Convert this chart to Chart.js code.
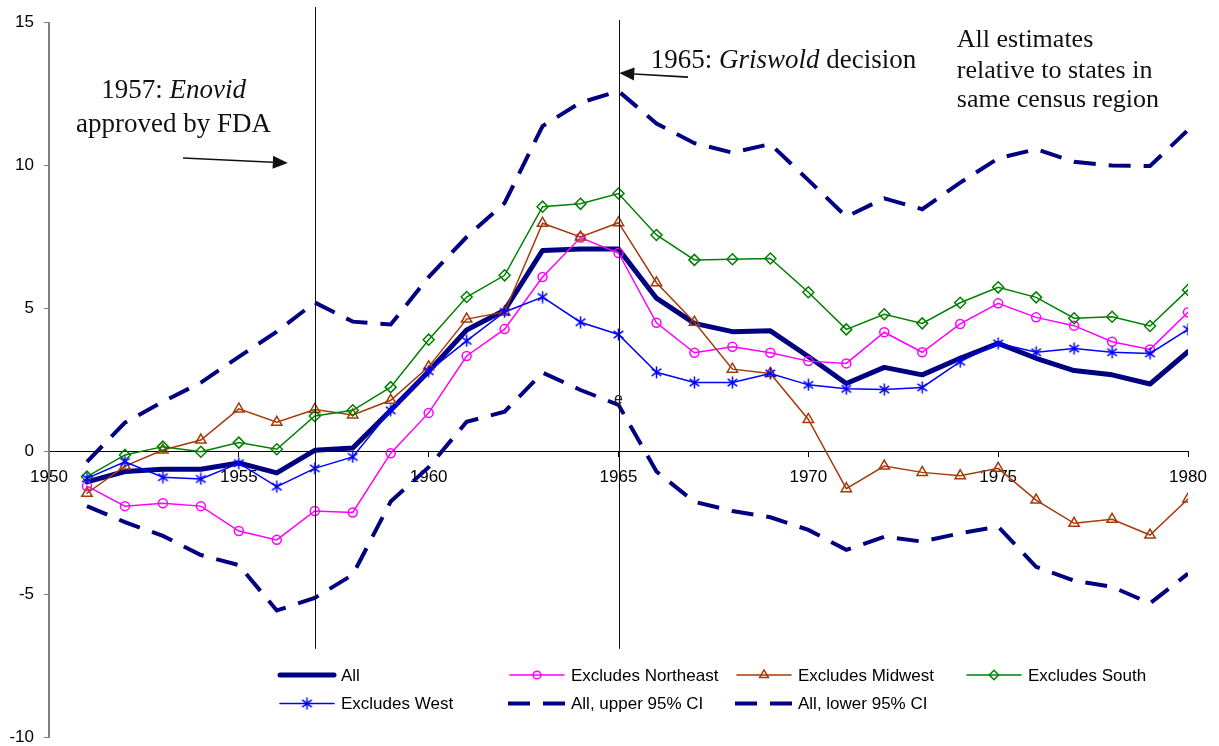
<!DOCTYPE html>
<html>
<head>
<meta charset="utf-8">
<script src="https://cdn.jsdelivr.net/npm/chart.js@4.4.1/dist/chart.umd.min.js"></script>
<style>
  html, body { margin: 0; padding: 0; background: #fff; }
  canvas { display: block; }
</style>
</head>
<body>
<canvas id="chart" width="1219" height="746"></canvas>
<script>
// Years covered by the estimates
const years = [1951, 1952, 1953, 1954, 1955, 1956, 1957, 1958, 1959, 1960,
               1961, 1962, 1963, 1964, 1965, 1966, 1967, 1968, 1969, 1970,
               1971, 1972, 1973, 1974, 1975, 1976, 1977, 1978, 1979, 1980];

// Point estimates, all states and leaving out one census region at a time
const allStates = [-1.06, -0.70, -0.62, -0.62, -0.40, -0.75, 0.04, 0.12, 1.44, 2.80,
                   4.25, 4.94, 7.03, 7.08, 7.08, 5.36, 4.48, 4.19, 4.22, 3.32,
                   2.38, 2.94, 2.68, 3.26, 3.78, 3.26, 2.83, 2.68, 2.36, 3.49];
const exclNortheast = [-1.21, -1.91, -1.81, -1.91, -2.78, -3.09, -2.08, -2.13, -0.06, 1.35,
                       3.34, 4.28, 6.10, 7.48, 6.94, 4.50, 3.45, 3.66, 3.45, 3.16,
                       3.08, 4.17, 3.47, 4.46, 5.18, 4.69, 4.40, 3.84, 3.57, 4.87];
const exclMidwest = [-1.46, -0.51, 0.05, 0.40, 1.49, 1.02, 1.47, 1.28, 1.79, 2.96,
                     4.63, 4.88, 7.98, 7.50, 8.00, 5.90, 4.52, 2.88, 2.73, 1.12,
                     -1.30, -0.51, -0.73, -0.85, -0.59, -1.70, -2.51, -2.37, -2.92, -1.66];
const exclSouth = [-0.88, -0.12, 0.17, -0.01, 0.31, 0.08, 1.24, 1.44, 2.25, 3.91,
                   5.40, 6.16, 8.56, 8.66, 9.02, 7.57, 6.70, 6.72, 6.75, 5.57,
                   4.27, 4.80, 4.48, 5.20, 5.74, 5.39, 4.66, 4.71, 4.39, 5.65];
const exclWest = [-0.94, -0.36, -0.90, -0.96, -0.41, -1.23, -0.59, -0.19, 1.44, 2.81,
                  3.87, 4.88, 5.40, 4.52, 4.09, 2.77, 2.41, 2.41, 2.73, 2.33,
                  2.19, 2.17, 2.24, 3.14, 3.78, 3.47, 3.60, 3.47, 3.43, 4.27];

// 95% confidence band around the all-states estimate
const upperCI = [-0.36, 1.01, 1.74, 2.41, 3.31, 4.19, 5.21, 4.54, 4.44, 6.10,
                 7.50, 8.69, 11.38, 12.20, 12.60, 11.47, 10.78, 10.45, 10.75, 9.49,
                 8.21, 8.85, 8.47, 9.40, 10.25, 10.57, 10.13, 10.00, 9.98, 11.24];
const lowerCI = [-1.91, -2.47, -2.95, -3.62, -3.97, -5.56, -5.12, -4.31, -1.75, -0.55,
                 1.04, 1.39, 2.76, 2.15, 1.63, -0.70, -1.76, -2.08, -2.30, -2.74,
                 -3.44, -2.98, -3.15, -2.86, -2.63, -4.03, -4.52, -4.73, -5.31, -4.27];

const seriesNames = ['All', 'Excludes Northeast', 'Excludes Midwest', 'Excludes South',
                     'Excludes West', 'All, upper 95% CI', 'All, lower 95% CI'];

// Axis labels
const xTickLabels = ['1950', '1955', '1960', '1965', '1970', '1975', '1980'];
const yTickLabels = ['-10', '-5', '0', '5', '10', '15'];

const SANS = '"Liberation Sans", Arial, sans-serif';
const SERIF = '"Liberation Serif", "Times New Roman", serif';

// Asterisk marker: vertical stroke crossed by two diagonals
function asteriskMarker(color, size) {
  const c = document.createElement('canvas');
  c.width = size; c.height = size;
  const g = c.getContext('2d');
  const m = size / 2, r = size / 2 - 0.5, d = r * 0.8;
  g.strokeStyle = color;
  g.lineWidth = 1.5;
  g.beginPath();
  g.moveTo(m, m - r); g.lineTo(m, m + r);
  g.moveTo(m - d, m - d * 0.75); g.lineTo(m + d, m + d * 0.75);
  g.moveTo(m - d, m + d * 0.75); g.lineTo(m + d, m - d * 0.75);
  g.stroke();
  return c;
}

const toPoints = vals => years.map((yr, i) => ({ x: yr, y: vals[i] }));

const seriesValues = [allStates, exclNortheast, exclMidwest, exclSouth, exclWest, upperCI, lowerCI];
const seriesStyles = [
  { color: '#000080', width: 5, point: null, r: 0 },
  { color: '#FF00FF', width: 1.5, point: 'circle', r: 4.5 },
  { color: '#A63A0A', width: 1.5, point: 'triangle', r: 6 },
  { color: '#008000', width: 1.5, point: 'rectRot', r: 5.5 },
  { color: '#0000FF', width: 1.5, point: asteriskMarker('#0000FF', 13), r: 6 },
  { color: '#000080', width: 4, point: null, r: 0, dash: [22, 13] },
  { color: '#000080', width: 4, point: null, r: 0, dash: [22, 13] }
];

const datasets = seriesValues.map((vals, i) => {
  const s = seriesStyles[i];
  return {
    label: seriesNames[i],
    data: toPoints(vals),
    borderColor: s.color,
    borderWidth: s.width,
    borderDash: s.dash || [],
    borderCapStyle: s.dash ? 'butt' : 'round',
    borderJoinStyle: i === 0 ? 'round' : 'miter',
    tension: 0,
    fill: false,
    pointStyle: s.point || 'circle',
    pointRadius: s.r,
    pointHoverRadius: s.r,
    pointBorderColor: s.color,
    pointBackgroundColor: 'rgba(0,0,0,0)',
    pointBorderWidth: 1.5,
    order: seriesValues.length - i
  };
});

// Draws text made of plain and italic runs, starting at x (or centred on x)
function drawRuns(ctx, runs, x, y, size, centred) {
  const fontFor = it => (it ? 'italic ' : '') + size + 'px ' + SERIF;
  const widths = runs.map(([t, it]) => { ctx.font = fontFor(it); return ctx.measureText(t).width; });
  let cx = centred ? x - widths.reduce((a, b) => a + b, 0) / 2 : x;
  runs.forEach(([t, it], k) => {
    ctx.font = fontFor(it);
    ctx.fillText(t, cx, y);
    cx += widths[k];
  });
}

function drawArrow(ctx, x0, y0, x1, y1) {
  const ang = Math.atan2(y1 - y0, x1 - x0);
  const len = 15, half = 6.5;
  const bx = x1 - len * Math.cos(ang), by = y1 - len * Math.sin(ang);
  ctx.beginPath();
  ctx.moveTo(x0, y0); ctx.lineTo(bx, by);
  ctx.stroke();
  ctx.beginPath();
  ctx.moveTo(x1, y1);
  ctx.lineTo(bx + half * Math.sin(ang), by - half * Math.cos(ang));
  ctx.lineTo(bx - half * Math.sin(ang), by + half * Math.cos(ang));
  ctx.closePath();
  ctx.fill();
}

// Event markers and explanatory notes, placed in data coordinates
const notesPlugin = {
  id: 'notes',
  afterDatasetsDraw(chart) {
    const { ctx } = chart;
    const xs = chart.scales.x, ys = chart.scales.y;
    const X = v => xs.getPixelForValue(v), Y = v => ys.getPixelForValue(v);
    ctx.save();
    ctx.strokeStyle = '#111';
    ctx.lineWidth = 1;
    [[1957, 15.54], [1965, 15.09]].forEach(([yr, top]) => {
      const px = Math.round(X(yr)) + 0.5;
      ctx.beginPath();
      ctx.moveTo(px, Y(top));
      ctx.lineTo(px, Y(-6.9));
      ctx.stroke();
    });

    ctx.fillStyle = '#111';
    ctx.textBaseline = 'alphabetic';
    ctx.textAlign = 'left';
    drawRuns(ctx, [['1957: ', false], ['Enovid', true]], X(1953.28), Y(12.36), 27, true);
    drawRuns(ctx, [['approved by FDA', false]], X(1953.28), Y(11.17), 27, true);
    drawRuns(ctx, [['1965: ', false], ['Griswold', true], [' decision', false]], X(1965.85), Y(13.41), 27, false);
    drawRuns(ctx, [['All estimates', false]], X(1973.91), Y(14.14), 26, false);
    drawRuns(ctx, [['relative to states in', false]], X(1973.91), Y(13.06), 26, false);
    drawRuns(ctx, [['same census region', false]], X(1973.91), Y(12.05), 26, false);

    ctx.lineWidth = 1.6;
    drawArrow(ctx, X(1953.53), Y(10.26), X(1956.29), Y(10.09));
    drawArrow(ctx, X(1966.83), Y(13.09), X(1965.02), Y(13.23));

    ctx.font = '16px ' + SANS;
    ctx.fillStyle = '#222';
    ctx.textAlign = 'center';
    ctx.textBaseline = 'middle';
    ctx.fillText('e', X(1965), Y(1.8));
    ctx.restore();
  }
};

// Two-row legend laid out in fixed columns
const legendPlugin = {
  id: 'gridLegend',
  afterDraw(chart) {
    const { ctx } = chart;
    const cols = [278, 508, 735, 965];
    const rows = [675, 703.5];
    const sampleLen = 58;
    ctx.save();
    chart.data.datasets.forEach((ds, i) => {
      const col = i < 4 ? i : i - 4;
      const row = i < 4 ? 0 : 1;
      const x0 = cols[col], yy = rows[row];
      ctx.strokeStyle = ds.borderColor;
      ctx.lineWidth = ds.borderWidth;
      ctx.setLineDash(ds.borderDash);
      ctx.lineCap = ds.borderDash.length ? 'butt' : 'round';
      ctx.beginPath();
      ctx.moveTo(x0 + (ds.borderDash.length ? 0 : 2), yy);
      ctx.lineTo(x0 + sampleLen - (ds.borderDash.length ? 0 : 2), yy);
      ctx.stroke();
      ctx.setLineDash([]);
      ctx.lineCap = 'butt';
      if (ds.pointRadius > 0) {
        ctx.strokeStyle = ds.pointBorderColor;
        ctx.fillStyle = 'rgba(0,0,0,0)';
        ctx.lineWidth = ds.pointBorderWidth;
        Chart.helpers.drawPoint(ctx, {
          pointStyle: ds.pointStyle,
          radius: ds.pointRadius * 0.85,
          borderWidth: ds.pointBorderWidth,
          rotation: 0
        }, x0 + sampleLen / 2, yy);
      }
      ctx.fillStyle = '#000';
      ctx.font = '17px ' + SANS;
      ctx.textAlign = 'left';
      ctx.textBaseline = 'middle';
      ctx.fillText(ds.label, x0 + sampleLen + 5, yy + 1);
    });
    ctx.restore();
  }
};

const zeroPadding = scale => {
  scale.paddingLeft = 0; scale.paddingRight = 0;
  scale.paddingTop = 0; scale.paddingBottom = 0;
};

new Chart(document.getElementById('chart'), {
  type: 'line',
  data: { datasets },
  options: {
    responsive: false,
    animation: false,
    events: [],
    devicePixelRatio: 1,
    layout: { padding: { left: 0, top: 22.5, right: 31, bottom: 8.5 } },
    plugins: {
      legend: { display: false },
      tooltip: { enabled: false },
      title: { display: false }
    },
    scales: {
      x: {
        type: 'linear',
        position: { y: 0 },
        min: 1950,
        max: 1980,
        afterFit: zeroPadding,
        grid: { display: true, drawOnChartArea: false, drawTicks: true, tickLength: 5, color: '#000', lineWidth: 1 },
        border: { display: true, color: '#000', width: 1 },
        ticks: {
          stepSize: 5,
          autoSkip: false,
          maxRotation: 0,
          padding: 11,
          color: '#000',
          font: { family: SANS, size: 17 },
          callback: v => xTickLabels[Math.round((v - 1950) / 5)] ?? ''
        }
      },
      y: {
        type: 'linear',
        position: 'left',
        min: -10,
        max: 15,
        afterFit: scale => { zeroPadding(scale); scale.width = 49; },
        grid: { display: true, drawOnChartArea: false, drawTicks: true, tickLength: 5, color: '#808080', lineWidth: 1 },
        border: { display: true, color: '#808080', width: 2 },
        ticks: {
          stepSize: 5,
          padding: 10,
          color: '#000',
          font: { family: SANS, size: 17, lineHeight: 1 },
          callback: v => yTickLabels[Math.round((v + 10) / 5)] ?? ''
        }
      }
    }
  },
  plugins: [notesPlugin, legendPlugin]
});
</script>
</body>
</html>
